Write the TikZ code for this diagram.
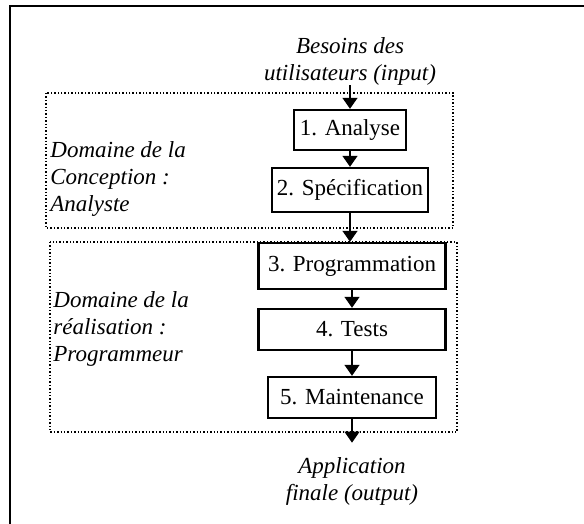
\documentclass[tikz,border=0pt]{standalone}
\usepackage{fontspec}
\setmainfont{Liberation Serif}
\usetikzlibrary{arrows.meta}
\tikzstyle{arrow} = [line width=0.7pt,-{Triangle[width=7.5pt,length=5.5pt]}]
\tikzstyle{etape} = [draw, line width=1.2pt, inner sep=0pt, font=\fontsize{11.5}{13.5}\selectfont]
\tikzstyle{domaine} = [dash pattern=on 0.7pt off 1pt, line width=0.7pt]
\tikzstyle{legende} = [inner sep=0pt, font=\fontsize{11.5}{13.5}\selectfont\itshape]

\begin{document}
\begin{tikzpicture}[x=0.5pt,y=-0.5pt]
\useasboundingbox (0,0) rectangle (584,524);
\draw[line width=1pt] (584,6) -- (10,6) -- (10,524);

% les deux domaines
\draw[domaine] (46,93) rectangle (453,228);
\draw[domaine] (50,242) rectangle (457,432);

\node[legende, align=center] (entree) at (350,61) {Besoins des\\utilisateurs (input)};
\node[etape, minimum width=56pt, minimum height=20pt] (analyse) at (350,130) {1. Analyse};
\node[etape, minimum width=78pt, minimum height=22pt] (specif) at (350,190) {2. Spécification};
\node[etape, minimum width=93.5pt, minimum height=23pt] (program) at (352,266) {3. Programmation};
\node[etape, minimum width=93.5pt, minimum height=20.5pt] (tests) at (352,329.5) {4. Tests};
\node[etape, minimum width=84pt, minimum height=20.5pt] (maint) at (352,397.5) {5. Maintenance};
\node[legende, align=center] (sortie) at (352,481) {Application\\finale (output)};

\node[legende, align=left, anchor=west] (conception) at (50,179) {Domaine de la\\Conception :\\Analyste};
\node[legende, align=left, anchor=west] (realisation) at (53,329) {Domaine de la\\réalisation :\\Programmeur};

\draw[arrow] (entree) -- (analyse);
\draw[arrow] (analyse) -- (specif);
\draw[arrow] (specif.south) -- (program.north -| specif.south);
\draw[arrow] (program) -- (tests);
\draw[arrow] (tests) -- (maint);
\draw[arrow, shorten >=7pt] (maint) -- (sortie);
\end{tikzpicture}
\end{document}
